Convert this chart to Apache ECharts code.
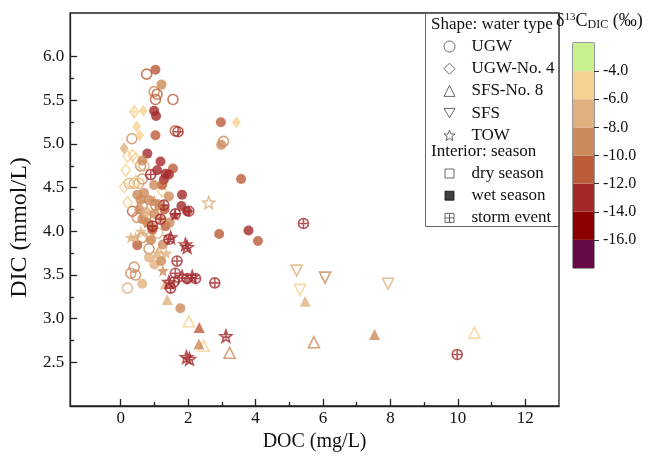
<!DOCTYPE html>
<html>
<head>
<meta charset="utf-8">
<script src="https://cdn.jsdelivr.net/npm/echarts@6/dist/echarts.min.js"></script>
<style>
  html, body { margin: 0; padding: 0; background: #fff; }
  #main { width: 651px; height: 457px; }
</style>
</head>
<body>
<div id="main"></div>
<script>
// each point: [DOC (mg/L), DIC (mmol/L), d13C-DIC (permil)]
const ugwDry = [
  [0.77, 5.80, -11], [0.99, 5.60, -9], [1.08, 5.57, -11], [1.03, 5.51, -11], [1.55, 5.51, -11],
  [1.62, 5.15, -11], [0.33, 5.06, -9], [3.05, 5.03, -9], [0.59, 4.75, -9], [0.69, 4.75, -7],
  [0.25, 4.55, -7], [0.40, 4.55, -7], [0.54, 4.55, -7], [0.64, 4.60, -9], [0.35, 4.23, -11],
  [0.64, 4.29, -9], [0.49, 4.16, -9], [0.74, 4.16, -9], [0.64, 3.93, -9], [0.84, 3.80, -9],
  [0.40, 3.59, -9], [0.30, 3.52, -9], [0.44, 3.50, -9], [0.20, 3.35, -7], [1.10, 3.98, -7]
];
const ugwWet = [
  [1.03, 5.85, -11], [1.21, 5.68, -9], [0.99, 5.38, -13], [1.05, 5.32, -13], [2.97, 5.25, -11],
  [1.03, 5.10, -11], [2.98, 4.99, -9], [0.79, 4.89, -13], [0.64, 4.81, -9], [1.18, 4.80, -13],
  [1.08, 4.70, -13], [1.55, 4.72, -11], [1.33, 4.66, -13], [1.43, 4.65, -13], [1.28, 4.59, -13],
  [1.23, 4.53, -11], [3.57, 4.60, -11], [0.99, 4.53, -9], [1.82, 4.42, -13], [1.43, 4.40, -9],
  [0.49, 4.42, -9], [0.69, 4.44, -9], [0.59, 4.36, -9], [0.84, 4.36, -9], [1.80, 4.29, -13],
  [1.97, 4.23, -13], [2.92, 3.97, -11], [3.79, 4.01, -13], [4.07, 3.89, -11], [0.49, 3.84, -11],
  [0.84, 3.70, -7], [0.64, 3.40, -7], [1.77, 3.12, -9], [0.64, 4.14, -9], [0.79, 4.10, -9],
  [0.94, 4.04, -9], [0.94, 4.02, -11], [1.33, 4.06, -11], [0.55, 4.25, -9], [0.75, 4.22, -7],
  [1.00, 4.20, -9], [1.15, 4.30, -9], [1.30, 4.25, -11], [0.90, 3.90, -9], [1.25, 3.85, -9],
  [1.00, 3.62, -7], [1.20, 3.66, -9], [1.45, 4.10, -9]
];
const ugwStorm = [
  [1.70, 5.14, -13], [0.89, 4.65, -13], [1.28, 4.30, -13], [1.62, 4.20, -13], [2.02, 4.23, -13],
  [1.18, 4.14, -13], [1.03, 4.30, -9], [0.94, 4.06, -13], [1.43, 3.91, -13], [1.67, 3.66, -13],
  [1.58, 3.42, -13], [1.48, 3.35, -13], [2.79, 3.41, -13], [5.42, 4.09, -13], [9.98, 2.59, -13],
  [1.97, 3.46, -13], [2.22, 3.46, -13], [1.62, 3.52, -13]
];
const ugw4Dry = [
  [0.20, 4.86, -5], [0.35, 4.87, -5], [0.44, 4.83, -5], [0.10, 4.51, -5], [0.44, 4.57, -5],
  [1.23, 4.46, -5], [0.20, 4.33, -5], [0.15, 4.70, -5]
];
const ugw4Wet = [[0.67, 5.38, -5], [3.43, 5.25, -5], [0.47, 5.20, -5], [0.56, 5.10, -5], [0.10, 4.95, -7]];
const ugw4Storm = [[0.40, 5.37, -5]];
const sfs8Dry = [[2.02, 2.97, -5], [2.46, 2.69, -5], [3.23, 2.61, -9], [5.73, 2.73, -9], [10.49, 2.84, -5], [1.13, 3.76, -7]];
const sfs8Wet = [[2.33, 2.90, -11], [2.32, 2.71, -9], [5.47, 3.20, -7], [7.53, 2.82, -9], [1.33, 3.40, -7], [1.38, 3.22, -7]];
const sfsDry = [[5.22, 3.55, -7], [6.06, 3.47, -9], [5.32, 3.33, -5], [7.93, 3.40, -7]];
const towDry = [[2.61, 4.33, -7], [0.84, 3.95, -7]];
const towWet = [
  [0.30, 3.93, -7], [0.44, 3.93, -7], [0.79, 4.10, -9], [1.61, 4.19, -13], [1.10, 3.75, -7],
  [1.00, 4.35, -9], [1.20, 4.15, -9], [0.60, 4.00, -7], [1.35, 3.75, -7], [1.25, 3.55, -9]
];
const towStorm = [
  [1.48, 3.93, -13], [1.92, 3.85, -13], [1.97, 3.82, -13], [1.82, 3.48, -13], [2.12, 3.48, -13],
  [2.04, 2.54, -13], [1.95, 2.56, -13], [3.12, 2.80, -13], [1.43, 3.42, -13]
];

// colour scale of d13C-DIC
const bandLow = [-18, -16, -14, -12, -10, -8, -6, -4];
const bandColors = ['#650a45', '#8b0000', '#a2282a', '#bb5b38', '#cc8a5a', '#e0b07f', '#f5d291', '#c9f08f'];
const colorTicks = [-16, -14, -12, -10, -8, -6, -4];

const xTicks = [0, 2, 4, 6, 8, 10, 12];
const xMinor = [1, 3, 5, 7, 9, 11];
const yTicks = [2.5, 3, 3.5, 4, 4.5, 5, 5.5, 6];
const yMinor = [2.75, 3.25, 3.75, 4.25, 4.75, 5.25, 5.75];

const waterTypes = ['UGW', 'UGW-No. 4', 'SFS-No. 8', 'SFS', 'TOW'];
const seasons = ['dry season', 'wet season', 'storm event'];

function colorOf(d) {
  const i = bandLow.findIndex(lo => d >= lo && d < lo + 2);
  return bandColors[i < 0 ? bandColors.length - 1 : i];
}

// symbol paths
function starPath(cross) {
  let d = '';
  for (let i = 0; i < 10; i++) {
    const r = i % 2 ? 0.42 : 1;
    const a = Math.PI / 2 + i * Math.PI / 5;
    d += (i ? 'L' : 'M') + (r * Math.cos(a)).toFixed(3) + ',' + (-r * Math.sin(a)).toFixed(3);
  }
  d += 'Z';
  if (cross) d += 'M-0.55,0.05L0.55,0.05M0,-0.55L0,0.6';
  return 'path://' + d;
}
const circleCross = 'path://M0,-1A1,1,0,1,1,0,1A1,1,0,1,1,0,-1ZM-1,0L1,0M0,-1L0,1';
const diamondCross = 'path://M0,-1L0.75,0L0,1L-0.75,0ZM-0.75,0L0.75,0M0,-1L0,1';
const invTriangle = 'path://M-1,-0.85L1,-0.85L0,0.85Z';
const squareCross = 'path://M0,0L1,0L1,1L0,1ZM0,0.5L1,0.5M0.5,0L0.5,1';

function scatter(data, symbol, size, mode) {
  return {
    type: 'scatter',
    xAxisIndex: 0,
    yAxisIndex: 0,
    symbol: symbol,
    symbolSize: size,
    silent: true,
    data: data.map(p => ({
      value: p,
      itemStyle: mode === 'wet'
        ? { color: colorOf(p[2]), borderWidth: 0 }
        : { color: 'rgba(255,255,255,0)', borderColor: colorOf(p[2]), borderWidth: 1.6 }
    }))
  };
}

const serif = 'Liberation Serif, Times New Roman, serif';
const dataSeries = [
  scatter(ugwDry, 'circle', 10, 'dry'),
  scatter(ugw4Dry, 'diamond', [9, 12], 'dry'),
  scatter(sfsDry, invTriangle, 11, 'dry'),
  scatter(sfs8Dry, 'triangle', 11, 'dry'),
  scatter(towDry, starPath(false), 12, 'dry'),
  scatter(ugwWet, 'circle', 10, 'wet'),
  scatter(ugw4Wet, 'diamond', [9, 12], 'wet'),
  scatter(sfs8Wet, 'triangle', 11, 'wet'),
  scatter(towWet, starPath(false), 12, 'wet'),
  scatter(ugwStorm, circleCross, 10, 'storm'),
  scatter(ugw4Storm, diamondCross, [9, 12], 'storm'),
  scatter(towStorm, starPath(true), 12, 'storm')
];

// empty series only for the legend entries
const legendSeries = waterTypes.concat(seasons).map(name => ({ type: 'scatter', name: name, data: [] }));

const bandSeries = {
  type: 'custom',
  xAxisIndex: 3,
  yAxisIndex: 2,
  silent: true,
  data: bandLow.map((lo, i) => [lo, lo + 2, i]),
  renderItem: (params, api) => {
    const topLeft = api.coord([0, api.value(1)]);
    const botRight = api.coord([1, api.value(0)]);
    return {
      type: 'rect',
      shape: { x: topLeft[0], y: topLeft[1], width: botRight[0] - topLeft[0], height: botRight[1] - topLeft[1] },
      style: { fill: bandColors[api.value(2)] }
    };
  }
};

const legendIcon = { color: 'rgba(0,0,0,0)', borderColor: '#444', borderWidth: 1 };
const legendText = { fontFamily: serif, fontSize: 17, color: '#111', lineHeight: 16, padding: [0, 0, 0, 11.5] };

const option = {
  animation: false,
  backgroundColor: '#fff',
  grid: [
    { left: 68, top: 13, width: 491, height: 396, show: true, borderColor: '#222', borderWidth: 1.3, containLabel: false },
    { left: 573, top: 43, width: 21, height: 225, show: true, borderColor: '#333', borderWidth: 1, containLabel: false }
  ],
  xAxis: [
    {
      type: 'value', gridIndex: 0, min: -1.5, max: 13, position: 'bottom',
      name: 'DOC (mg/L)', nameLocation: 'middle', nameGap: 26,
      nameTextStyle: { fontFamily: serif, fontSize: 20, color: '#111' },
      axisLine: { onZero: false, lineStyle: { color: '#222', width: 1.3 } },
      axisTick: { inside: true, length: 7, customValues: xTicks, lineStyle: { color: '#222', width: 1.3 } },
      axisLabel: { customValues: xTicks, margin: 4, fontFamily: serif, fontSize: 17, color: '#111' },
      splitLine: { show: false }
    },
    {
      type: 'value', gridIndex: 0, min: -1.5, max: 13, position: 'bottom',
      axisLine: { show: false, onZero: false },
      axisTick: { inside: true, length: 4, customValues: xMinor, lineStyle: { color: '#222', width: 1.3 } },
      axisLabel: { show: false },
      splitLine: { show: false }
    },
    {
      type: 'value', gridIndex: 0, min: -1.5, max: 13, position: 'top', show: false
    },
    {
      type: 'value', gridIndex: 1, min: 0, max: 1, show: false
    }
  ],
  yAxis: [
    {
      type: 'value', gridIndex: 0, min: 2, max: 6.5, position: 'left',
      name: 'DIC (mmol/L)', nameLocation: 'middle', nameGap: 38,
      nameTextStyle: { fontFamily: serif, fontSize: 24, color: '#111', padding: [0, 36, 0, 0] },
      axisLine: { show: true, onZero: false, lineStyle: { color: '#222', width: 1.3 } },
      axisTick: { show: true, inside: true, length: 7, customValues: yTicks, lineStyle: { color: '#222', width: 1.3 } },
      axisLabel: { customValues: yTicks, margin: 6, fontFamily: serif, fontSize: 17, color: '#111', formatter: v => v.toFixed(1) },
      splitLine: { show: false }
    },
    {
      type: 'value', gridIndex: 0, min: 2, max: 6.5, position: 'left',
      axisLine: { show: false, onZero: false },
      axisTick: { show: true, inside: true, length: 4, customValues: yMinor, lineStyle: { color: '#222', width: 1.3 } },
      axisLabel: { show: false },
      splitLine: { show: false }
    },
    {
      type: 'value', gridIndex: 1, min: -18, max: -2, position: 'right',
      axisLine: { show: false, onZero: false },
      axisTick: { show: true, length: 5, customValues: colorTicks, lineStyle: { color: '#333', width: 1 } },
      axisLabel: { customValues: colorTicks, margin: 9, fontFamily: serif, fontSize: 16, color: '#111', formatter: v => v.toFixed(1) },
      splitLine: { show: false }
    }
  ],
  title: {
    text: 'δ{sup|13}C{sub|DIC} (‰)',
    left: 556, top: 12, padding: 0,
    textStyle: {
      fontFamily: serif, fontSize: 18, fontWeight: 'normal', color: '#111',
      rich: {
        sup: { fontFamily: serif, fontSize: 11, verticalAlign: 'top', padding: [0, 0, 8, 0], color: '#111' },
        sub: { fontFamily: serif, fontSize: 12, verticalAlign: 'bottom', padding: [6, 0, 0, 0], color: '#111' }
      }
    }
  },
  legend: [
    {
      data: waterTypes.map((n, i) => ({
        name: n,
        icon: ['circle', 'diamond', 'triangle', invTriangle, starPath(false)][i]
      })),
      orient: 'vertical', left: 443.5, top: 38, padding: 0,
      itemWidth: 11, itemHeight: 11, itemGap: 5.2,
      selectedMode: false,
      itemStyle: legendIcon,
      textStyle: legendText
    },
    {
      data: seasons.map((n, i) => ({
        name: n,
        icon: ['rect', 'rect', squareCross][i],
        itemStyle: i === 1 ? { color: '#111', borderColor: '#111', borderWidth: 1 } : legendIcon
      })),
      orient: 'vertical', left: 444.5, top: 165, padding: 0,
      itemWidth: 9, itemHeight: 9, itemGap: 5.2,
      selectedMode: false,
      itemStyle: legendIcon,
      textStyle: Object.assign({}, legendText, { padding: [0, 0, 0, 12.5] })
    }
  ],
  graphic: [
    {
      type: 'rect', left: 425, top: 13, silent: true,
      shape: { width: 134, height: 213 },
      style: { fill: 'rgba(0,0,0,0)', stroke: '#666', lineWidth: 1 }
    },
    {
      type: 'text', left: 431, top: 16, silent: true,
      style: { text: 'Shape: water type', font: '17px ' + serif, fill: '#111' }
    },
    {
      type: 'text', left: 431, top: 143, silent: true,
      style: { text: 'Interior: season', font: '17px ' + serif, fill: '#111' }
    }
  ],
  series: dataSeries.concat(legendSeries, [bandSeries])
};

const myChart = echarts.init(document.getElementById('main'), null, { renderer: 'canvas' });
myChart.setOption(option);
</script>
</body>
</html>
